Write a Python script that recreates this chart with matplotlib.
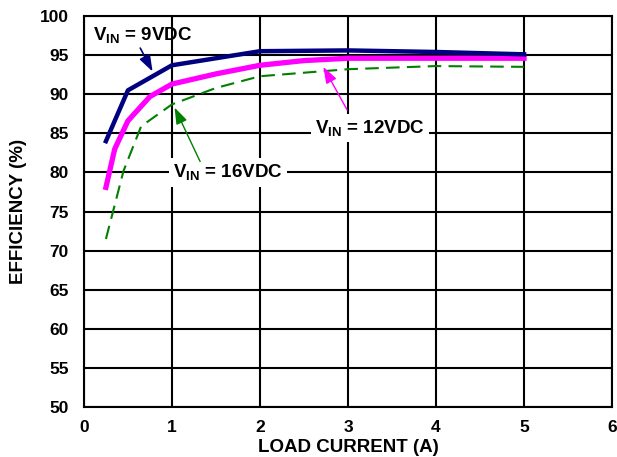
import matplotlib.pyplot as plt

plt.rcParams['font.family'] = 'Liberation Sans'
plt.rcParams['font.weight'] = 'bold'
plt.rcParams['mathtext.fontset'] = 'custom'
plt.rcParams['mathtext.rm'] = 'Liberation Sans:bold'
plt.rcParams['mathtext.it'] = 'Liberation Sans:bold'
plt.rcParams['mathtext.bf'] = 'Liberation Sans:bold'

# data
i_9v = [0.25, 0.5, 1.0, 2.0, 3.0, 4.0, 5.0]
eff_9v = [84.0, 90.5, 93.7, 95.5, 95.6, 95.4, 95.1]

i_12v = [0.25, 0.35, 0.5, 0.75, 1.0, 1.5, 2.0, 2.5, 3.0, 4.0, 5.0]
eff_12v = [78.1, 83.0, 86.6, 89.7, 91.3, 92.6, 93.7, 94.3, 94.6, 94.6, 94.6]

i_16v = [0.25, 0.45, 0.65, 1.0, 1.5, 2.0, 3.0, 4.0, 5.0]
eff_16v = [71.5, 80.2, 85.9, 88.7, 90.8, 92.3, 93.2, 93.6, 93.5]

x_ticks = [0, 1, 2, 3, 4, 5, 6]
y_ticks = [50, 55, 60, 65, 70, 75, 80, 85, 90, 95, 100]

fig = plt.figure(figsize=(6.17, 4.57), dpi=100)
ax = fig.add_axes([0.136, 0.109, 0.856, 0.856])

ax.plot(i_16v, eff_16v, color='#008000', lw=1.5, dashes=(6.5, 3.5), zorder=3)
ax.plot(i_12v, eff_12v, color='#ff00ff', lw=3.8, zorder=4)
ax.plot(i_9v, eff_9v, color='#000080', lw=3.2, zorder=5)

ax.set_xlim(0, 6)
ax.set_ylim(50, 100)
ax.set_xticks(x_ticks)
ax.set_yticks(y_ticks)
ax.grid(True, color='black', lw=1.5)
for s in ax.spines.values():
    s.set_linewidth(1.5)
ax.tick_params(length=0, labelsize=12.5)
ax.tick_params(axis='y', pad=11)
ax.tick_params(axis='x', pad=9)
ax.set_xlabel('LOAD CURRENT (A)', fontsize=13.5, fontweight='bold', labelpad=3)
ax.set_ylabel('EFFICIENCY (%)', fontsize=13.5, fontweight='bold', labelpad=9)

box = dict(facecolor='white', edgecolor='none', pad=3)
head = dict(arrowstyle='-|>,head_length=1.0,head_width=0.35', mutation_scale=10,
            shrinkA=0, shrinkB=0)

ax.text(0.67, 97.6, r'$\mathrm{V_{IN}}$ = 9VDC', fontsize=13.5, ha='center', va='center', zorder=6)
ax.annotate('', xy=(0.78, 92.9), xytext=(0.64, 95.9),
            arrowprops=dict(color='#000080', lw=1.2, **head), zorder=6)

ax.text(3.25, 85.7, r'$\mathrm{V_{IN}}$ = 12VDC', fontsize=13.5, ha='center', va='center', bbox=box, zorder=6)
ax.annotate('', xy=(2.72, 93.5), xytext=(2.99, 88.0),
            arrowprops=dict(color='#ff00ff', lw=1.0, **head), zorder=6)

ax.text(1.64, 80.0, r'$\mathrm{V_{IN}}$ = 16VDC', fontsize=13.5, ha='center', va='center', bbox=box, zorder=6)
ax.annotate('', xy=(1.03, 88.3), xytext=(1.32, 81.4),
            arrowprops=dict(color='#008000', lw=1.0, **head), zorder=6)

fig.savefig('out.png', dpi=100)
